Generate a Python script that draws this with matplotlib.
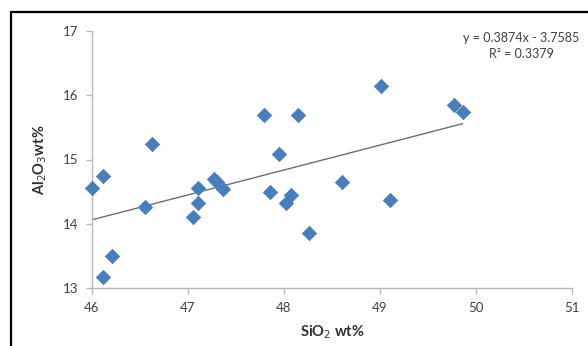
import matplotlib
matplotlib.use("Agg")
import matplotlib.pyplot as plt
from matplotlib.patches import Rectangle
import numpy as np

plt.rcParams['font.family'] = ['Lato', 'DejaVu Sans']

# SiO2 and Al2O3 contents (wt%)
sio2 = [46.00, 46.11, 46.11, 46.21, 46.55, 46.63, 47.05, 47.10, 47.10, 47.27,
        47.30, 47.36, 47.79, 47.85, 47.95, 48.02, 48.07, 48.15, 48.26, 48.60,
        49.01, 49.10, 49.77, 49.86]
al2o3 = [14.56, 14.74, 13.17, 13.50, 14.26, 15.24, 14.10, 14.56, 14.32, 14.70,
         14.65, 14.54, 15.70, 14.50, 15.08, 14.33, 14.45, 15.70, 13.85, 14.65,
         16.15, 14.37, 15.85, 15.74]

# Linear trend line coefficients
slope = 0.3874
intercept = -3.7585
r_squared = 0.3379

x_ticks = [46, 47, 48, 49, 50, 51]
y_ticks = [13, 14, 15, 16, 17]

W, H = 588, 346
fig = plt.figure(figsize=(W / 100, H / 100), dpi=100)
fig.patch.set_facecolor('white')

# outer chart frame (top and left edges visible)
fig.patches.append(Rectangle((11 / W, -0.05), 1.2, (H - 12) / H + 0.05,
                             transform=fig.transFigure, fill=False,
                             edgecolor='black', linewidth=1.6))

ax = fig.add_axes([92 / W, (H - 288) / H, (572 - 92) / W, (288 - 31) / H])
ax.set_xlim(46, 51)
ax.set_ylim(13, 17)

ax.scatter(sio2, al2o3, marker='D', s=62, color='#4a7ebb', zorder=3,
           linewidths=0, clip_on=False)

xs = np.array([min(sio2), max(sio2)])
ax.plot(xs, slope * xs + intercept, color='#6e6e6e', linewidth=1.0, zorder=2)

ax.set_xticks(x_ticks)
ax.set_yticks(y_ticks)
for s in ['top', 'right']:
    ax.spines[s].set_visible(False)
for s in ['left', 'bottom']:
    ax.spines[s].set_color('#b8b8b8')
    ax.spines[s].set_linewidth(1.0)
ax.tick_params(axis='both', direction='out', length=4, width=1,
               color='#b8b8b8', labelsize=9.5, labelcolor='#404040', pad=6)

ax.set_xlabel('SiO$_2$ wt%', fontsize=10.5, fontweight='bold', color='#303030',
              labelpad=7)
ax.set_ylabel('Al$_2$O$_3$wt%', fontsize=10.5, fontweight='bold', color='#303030',
              labelpad=10)

sign = '-' if intercept < 0 else '+'
eq_text = f'y = {slope:.4f}x {sign} {abs(intercept):.4f}\nR² = {r_squared:.4f}'
fig.text(521 / W, 1 - 46 / H, eq_text, ha='center', va='center',
         fontsize=9, color='#404040', linespacing=1.45)

fig.savefig('out.png', dpi=100)
